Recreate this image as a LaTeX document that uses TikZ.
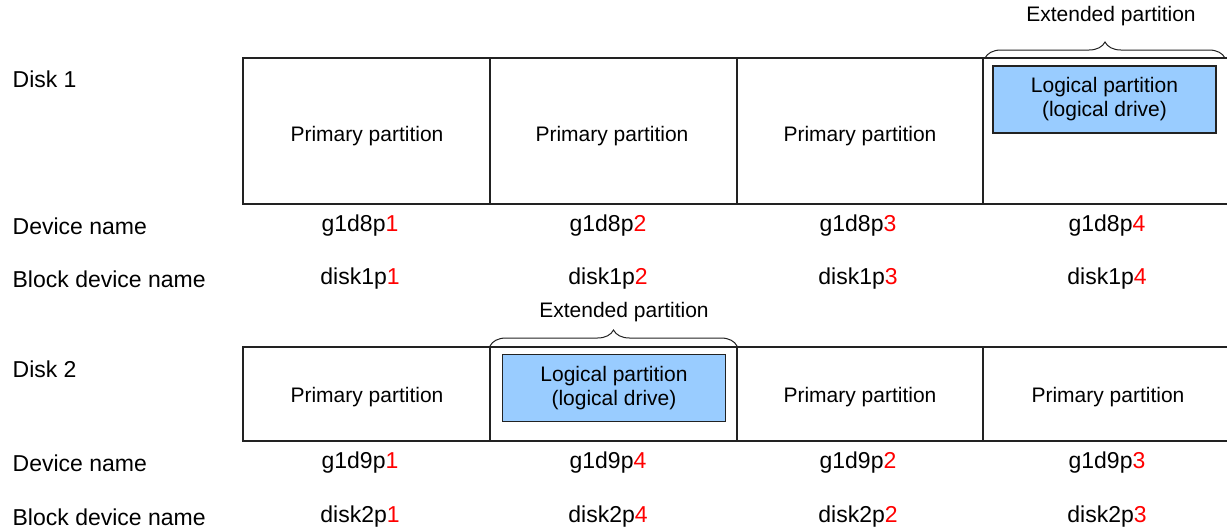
\documentclass[tikz,border=0pt]{standalone}
\usepackage{fontspec}
\setmainfont{Liberation Sans}
\usetikzlibrary{decorations.pathreplacing}
\definecolor{logicblue}{HTML}{99CCFF}
\definecolor{linegray}{HTML}{222222}
\newcommand{\rd}[1]{\textcolor{red}{#1}}
\tikzset{
  rowlab/.style={anchor=west,inner sep=0pt,font=\fontsize{23}{27}\selectfont},
  devtext/.style={inner sep=0pt,font=\fontsize{23}{27}\selectfont},
  parttext/.style={inner sep=0pt,font=\fontsize{21}{25}\selectfont},
  logic/.style={draw=linegray,fill=logicblue,line width=1.3pt,minimum width=223pt,
    minimum height=67pt,align=center,font=\fontsize{21}{24}\selectfont},
  extbrace/.style={decorate,decoration={brace,amplitude=16pt},line width=1pt},
}
\begin{document}
\begin{tikzpicture}[x=1pt,y=-1pt,line width=1.3pt,draw=linegray]
\useasboundingbox (0,0) rectangle (1227,531);
% Draw disk 1
\draw (1240,58) -- (243,58) -- (243,204) -- (1240,204);
\draw (490,58) -- (490,204);
\draw (737,58) -- (737,204);
\draw (983,58) -- (983,204);
\node[rowlab] (disk1) at (12,79) {Disk 1};
\node[parttext] (d1p1) at (367,136) {Primary partition};
\node[parttext] (d1p2) at (612,136) {Primary partition};
\node[parttext] (d1p3) at (860,136) {Primary partition};
\node[logic] (d1log) at (1104.5,99.5) {Logical partition\\(logical drive)};
% Extended partition of disk 1
\coordinate (d1extl) at (985,58);
\coordinate (d1extr) at (1225,58);
\draw[extbrace] (d1extl) -- (d1extr);
\node[parttext] (d1ext) at (1111,16) {Extended partition};
% Names of disk 1
\node[rowlab] (d1dev) at (12,226) {Device name};
\node[rowlab] (d1blk) at (12,279) {Block device name};
\node[devtext] (d1dev1) at (360,226) {g1d8p\rd{1}};
\node[devtext] (d1dev2) at (608,226) {g1d8p\rd{2}};
\node[devtext] (d1dev3) at (858,226) {g1d8p\rd{3}};
\node[devtext] (d1dev4) at (1107,226) {g1d8p\rd{4}};
\node[devtext] (d1blk1) at (360,279) {disk1p\rd{1}};
\node[devtext] (d1blk2) at (608,279) {disk1p\rd{2}};
\node[devtext] (d1blk3) at (858,279) {disk1p\rd{3}};
\node[devtext] (d1blk4) at (1107,279) {disk1p\rd{4}};

% Draw disk 2
\draw (1240,347) -- (243,347) -- (243,441) -- (1240,441);
\draw (490,347) -- (490,441);
\draw (737,347) -- (737,441);
\draw (983,347) -- (983,441);
\node[rowlab] (disk2) at (12,369) {Disk 2};
\node[parttext] (d2p1) at (367,397) {Primary partition};
\node[logic] (d2log) at (614,388) {Logical partition\\(logical drive)};
\node[parttext] (d2p3) at (860,397) {Primary partition};
\node[parttext] (d2p4) at (1108,397) {Primary partition};
% Extended partition of disk 2
\coordinate (d2extl) at (490,346);
\coordinate (d2extr) at (737,346);
\draw[extbrace] (d2extl) -- (d2extr);
\node[parttext] (d2ext) at (624,312) {Extended partition};
% Names of disk 2
\node[rowlab] (d2dev) at (12,463) {Device name};
\node[rowlab] (d2blk) at (12,517) {Block device name};
\node[devtext] (d2dev1) at (360,463) {g1d9p\rd{1}};
\node[devtext] (d2dev2) at (608,463) {g1d9p\rd{4}};
\node[devtext] (d2dev3) at (858,463) {g1d9p\rd{2}};
\node[devtext] (d2dev4) at (1107,463) {g1d9p\rd{3}};
\node[devtext] (d2blk1) at (360,517) {disk2p\rd{1}};
\node[devtext] (d2blk2) at (608,517) {disk2p\rd{4}};
\node[devtext] (d2blk3) at (858,517) {disk2p\rd{2}};
\node[devtext] (d2blk4) at (1107,517) {disk2p\rd{3}};
\end{tikzpicture}
\end{document}
